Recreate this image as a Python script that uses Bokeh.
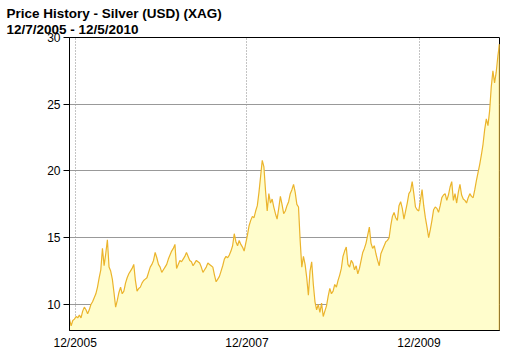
import pandas as pd
from bokeh.plotting import figure
from bokeh.models import Range1d, FixedTicker, DatetimeTickFormatter
from bokeh.embed import file_html
from bokeh.resources import INLINE

title_line1 = "Price History - Silver (USD) (XAG)"
title_line2 = "12/7/2005 - 12/5/2010"
start_date = "2005-12-07"

# weekly closing prices (USD/oz)
prices = [
    8.9, 8.4, 8.8, 8.9, 9.1, 9.0, 9.2, 9.0, 9.5, 9.8,
    9.6, 9.3, 9.6, 10.0, 10.2, 10.5, 10.8, 11.3, 12.0, 12.6,
    14.2, 12.9, 13.8, 14.85, 12.8, 12.5, 11.9, 10.9, 9.8, 10.3,
    10.9, 11.3, 10.8, 11.0, 11.6, 12.0, 12.3, 12.5, 12.7, 13.0,
    11.8, 11.0, 11.2, 11.3, 11.6, 11.8, 11.9, 12.0, 12.4, 12.8,
    13.0, 13.3, 13.9, 13.5, 13.0, 12.8, 12.4, 12.6, 12.8, 13.0,
    13.4, 13.7, 14.0, 14.2, 14.5, 12.7, 13.0, 13.3, 13.2, 13.4,
    13.6, 13.9, 13.6, 13.3, 13.2, 12.9, 13.1, 13.3, 13.2, 13.1,
    12.8, 12.4, 12.6, 12.8, 13.1, 13.0, 12.9, 12.8, 12.2, 11.7,
    11.9, 12.1, 12.5, 12.9, 13.4, 13.6, 13.5, 13.7, 14.0, 14.4,
    15.3, 14.7, 14.4, 14.8, 14.5, 14.3, 14.0, 14.6, 15.2, 15.9,
    16.3, 16.6, 16.5, 17.0, 17.4, 18.4, 19.6, 20.8, 20.3, 18.5,
    17.0, 18.3, 17.6, 17.9, 17.3, 16.8, 16.4, 17.2, 18.1, 17.5,
    16.8, 17.0, 17.4, 17.7, 18.3, 18.6, 19.0, 18.4, 17.5, 17.3,
    14.8, 12.8, 13.6, 13.0, 12.0, 10.7, 12.5, 13.2, 11.5, 10.2,
    9.6, 10.0, 9.4, 10.1, 9.1, 9.5, 9.9, 10.6, 11.2, 10.8,
    11.0, 11.5, 11.3, 11.8, 12.2, 12.7, 13.6, 14.0, 14.3, 13.0,
    12.8, 13.3, 13.1, 12.6, 12.9, 12.3, 12.7, 13.3, 13.9, 14.2,
    14.6, 15.2, 15.8, 14.6, 14.2, 14.4, 13.8, 13.3, 12.9, 13.8,
    14.1, 14.4, 14.7, 14.8, 15.0, 15.9, 16.6, 16.9, 16.5, 16.3,
    17.4, 17.7, 17.2, 16.4, 17.0, 17.6, 18.3, 18.5, 19.2, 18.3,
    17.3, 17.1, 17.0, 17.8, 18.6, 17.4, 16.5, 15.8, 15.0, 15.6,
    16.3, 17.1, 17.3, 17.2, 16.9, 17.4, 18.0, 18.2, 18.3, 17.8,
    18.2, 18.8, 19.2, 17.8, 18.3, 17.6, 18.4, 19.0, 18.2, 17.9,
    17.8, 17.6, 18.0, 18.3, 18.1, 18.0, 18.6, 19.3, 19.9, 20.5,
    21.2, 22.0, 23.1, 23.9, 23.4, 24.5, 26.3, 27.5, 26.6, 27.4,
    28.6, 29.5,
]

x_tick_dates = ["2005-12-31", "2007-12-31", "2009-12-31"]
y_ticks = [10, 15, 20, 25, 30]
y_grid = [10, 15, 20, 25]
y_min, y_max = 8.05, 30

dates = pd.date_range(start_date, periods=len(prices), freq="7D")
tick_ms = [pd.Timestamp(d).value // 10**6 for d in x_tick_dates]

FONT = "Liberation Sans"
LINE = "#EBB42C"
FILL = "#FFFDCC"

p = figure(width=532, height=358, x_axis_type="datetime",
           output_backend="svg", toolbar_location=None,
           x_range=Range1d(dates[0], dates[-1]), y_range=Range1d(y_min, y_max),
           min_border_left=69, min_border_right=33,
           min_border_top=37, min_border_bottom=28)

p.title.text = title_line1 + "\n" + title_line2
p.title.text_font = FONT
p.title.text_font_size = "13.5px"
p.title.text_font_style = "bold"
p.title.text_color = "black"
p.title.text_line_height = 1.05
p.title.align = "left"
p.title.offset = -63
p.title.standoff = 2

p.background_fill_color = "white"
p.border_fill_color = "white"
p.outline_line_color = "black"
p.outline_line_width = 1

p.varea(x=dates, y1=y_min, y2=prices, fill_color=FILL)
p.line(x=dates, y=prices, line_color=LINE, line_width=1.2)
p.segment(x0=[dates[-1]], y0=[y_min], x1=[dates[-1]], y1=[prices[-1]],
          line_color=LINE, line_width=1.5)

p.ygrid.ticker = FixedTicker(ticks=y_grid)
p.ygrid.grid_line_color = "#999999"
p.ygrid.grid_line_width = 1
p.xgrid.ticker = FixedTicker(ticks=tick_ms)
p.xgrid.grid_line_color = "#888888"
p.xgrid.grid_line_dash = "1 2"

p.yaxis.ticker = FixedTicker(ticks=y_ticks)
p.yaxis.major_tick_in = 0
p.yaxis.major_tick_out = 6
p.yaxis.minor_tick_line_color = None
p.yaxis.major_label_standoff = 3
p.yaxis.axis_line_color = "black"
p.yaxis.major_tick_line_color = "black"

p.xaxis.ticker = FixedTicker(ticks=tick_ms)
p.xaxis.formatter = DatetimeTickFormatter(
    milliseconds="%m/%Y", seconds="%m/%Y", minsec="%m/%Y", minutes="%m/%Y",
    hourmin="%m/%Y", hours="%m/%Y", days="%m/%Y", months="%m/%Y", years="%m/%Y")
p.xaxis.major_tick_in = 0
p.xaxis.major_tick_out = 0
p.xaxis.minor_tick_line_color = None
p.xaxis.major_label_standoff = 5
p.xaxis.axis_line_color = "black"

for ax in (p.xaxis[0], p.yaxis[0]):
    ax.major_label_text_font = FONT
    ax.major_label_text_font_size = "12px"
    ax.major_label_text_color = "black"

open("out.html", "w").write(file_html(p, INLINE))
